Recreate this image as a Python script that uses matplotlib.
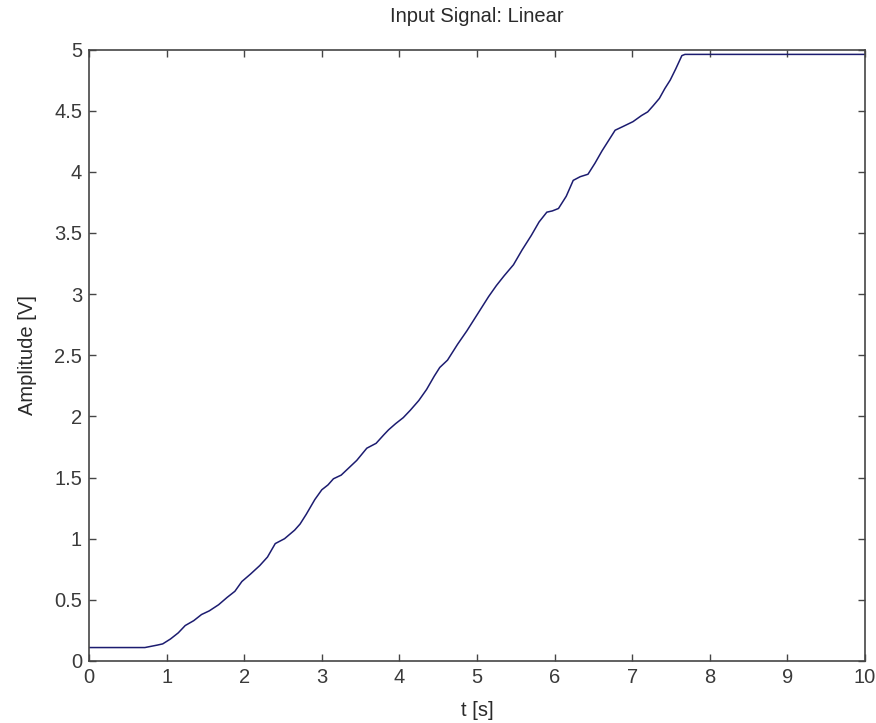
import matplotlib
matplotlib.use("Agg")
import matplotlib.pyplot as plt

# Data
t = [0.0, 0.72, 0.80, 0.88, 0.95, 1.05, 1.15, 1.24, 1.35, 1.45, 1.55, 1.67, 1.78, 1.88,
     1.97, 2.08, 2.20, 2.30, 2.40, 2.52, 2.65, 2.72, 2.80, 2.91, 3.00, 3.08, 3.15, 3.25,
     3.35, 3.45, 3.58, 3.70, 3.80, 3.86, 3.95, 4.05, 4.14, 4.25, 4.35, 4.45, 4.52, 4.62,
     4.75, 4.87, 4.95, 5.04, 5.15, 5.25, 5.35, 5.47, 5.58, 5.70, 5.80, 5.90, 5.97, 6.05,
     6.15, 6.24, 6.33, 6.43, 6.52, 6.61, 6.70, 6.78, 6.88, 7.01, 7.12, 7.20, 7.27, 7.35,
     7.42, 7.49, 7.56, 7.64, 7.68, 10.0]
amplitude = [0.11, 0.11, 0.12, 0.13, 0.14, 0.18, 0.23, 0.29, 0.33, 0.38, 0.41, 0.46, 0.52, 0.57,
             0.65, 0.71, 0.78, 0.85, 0.96, 1.00, 1.07, 1.12, 1.20, 1.32, 1.40, 1.44, 1.49, 1.52,
             1.58, 1.64, 1.74, 1.78, 1.85, 1.89, 1.94, 1.99, 2.05, 2.13, 2.22, 2.33, 2.40, 2.46,
             2.59, 2.70, 2.78, 2.87, 2.98, 3.07, 3.15, 3.24, 3.36, 3.48, 3.59, 3.67, 3.68, 3.70,
             3.80, 3.93, 3.96, 3.98, 4.07, 4.17, 4.26, 4.34, 4.37, 4.41, 4.46, 4.49, 4.54, 4.60,
             4.68, 4.75, 4.84, 4.95, 4.96, 4.96]

x_ticks = [0, 1, 2, 3, 4, 5, 6, 7, 8, 9, 10]
y_ticks = [0, 0.5, 1, 1.5, 2, 2.5, 3, 3.5, 4, 4.5, 5]
y_tick_labels = ["0", "0.5", "1", "1.5", "2", "2.5", "3", "3.5", "4", "4.5", "5"]

plt.rcParams['font.family'] = ['Liberation Sans', 'DejaVu Sans']

fig = plt.figure(figsize=(8.76, 7.23), dpi=100)
ax = fig.add_axes([89/876, (723-661)/723, (865-89)/876, (661-49.5)/723])

ax.plot(t, amplitude, color='#1c1c70', linewidth=1.1)

ax.set_xlim(0, 10)
ax.set_ylim(0, 5)
ax.set_xticks(x_ticks)
ax.set_yticks(y_ticks)
ax.set_yticklabels(y_tick_labels)

axis_col = '#454545'
for s in ax.spines.values():
    s.set_color(axis_col)
    s.set_linewidth(1.2)
ax.tick_params(direction='in', length=5, width=1.0, color=axis_col,
               top=True, right=True, labelsize=14.5, labelcolor='#3a3a3a', pad=5)

ax.set_title("Input Signal: Linear", fontsize=14.5, color='#2a2a2a', pad=20)
ax.set_xlabel("t [s]", fontsize=14.5, color='#2a2a2a', labelpad=10)
ax.set_ylabel("Amplitude [V]", fontsize=14.5, color='#2a2a2a', labelpad=12)

fig.savefig("out.png", dpi=100)
